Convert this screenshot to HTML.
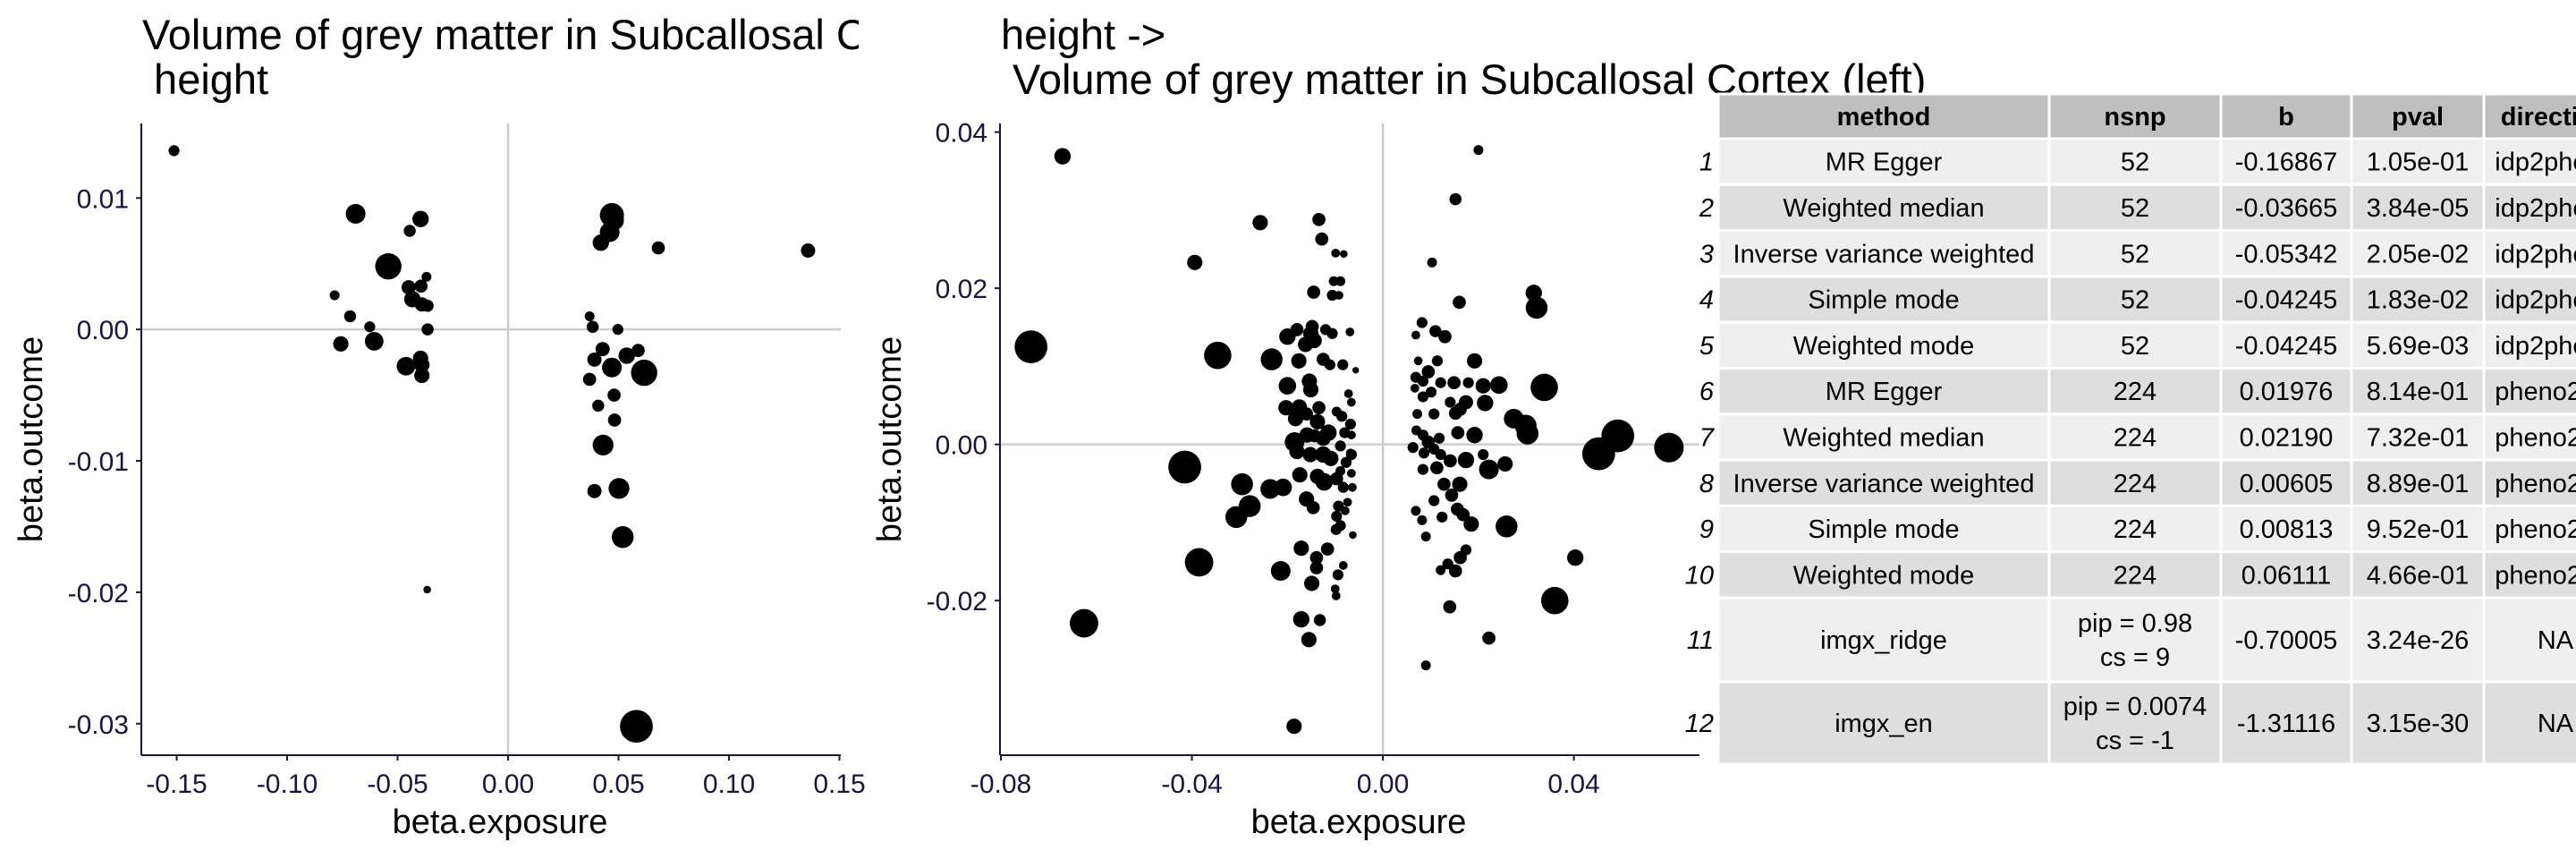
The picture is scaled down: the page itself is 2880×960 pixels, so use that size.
<!DOCTYPE html>
<html><head><meta charset="utf-8"><style>
html,body{margin:0;padding:0;background:#fff;width:2880px;height:960px;overflow:hidden}
svg{display:block;font-family:"Liberation Sans",Arial,sans-serif}
</style></head><body>
<svg id="s" width="2880" height="960" xmlns="http://www.w3.org/2000/svg">
<defs>
<clipPath id="c1"><rect x="158" y="138" width="782" height="706"/></clipPath>
<clipPath id="c2"><rect x="1118" y="138" width="782" height="706"/></clipPath>
<clipPath id="t1"><rect x="0" y="0" width="960" height="140"/></clipPath>
</defs>
</svg>
<script>
// ---- Panel 1 data ----
const p1x=[-0.1512,-0.069,-0.0396,-0.0445,-0.0542,-0.0369,-0.0785,-0.045,-0.0394,-0.0433,-0.039,-0.0364,-0.0715,-0.0626,-0.0364,-0.0757,-0.0606,-0.0396,-0.0462,-0.039,-0.039,-0.0366,0.047,0.048,0.046,0.042,0.068,0.1358,0.0369,0.0383,0.0497,0.0428,0.0589,0.0537,0.0391,0.047,0.0616,0.0369,0.048,0.0408,0.0482,0.043,0.0391,0.0502,0.0519,0.0581];
const p1y=[0.0136,0.0088,0.0084,0.0075,0.0048,0.0040,0.0026,0.0032,0.0033,0.0023,0.0019,0.0018,0.0010,0.0002,0.0,-0.0011,-0.0009,-0.0022,-0.0028,-0.0027,-0.0035,-0.0198,0.0087,0.0083,0.0074,0.0066,0.0062,0.0060,0.0010,0.0002,0.0,-0.0015,-0.0016,-0.0020,-0.0023,-0.0029,-0.0033,-0.0038,-0.0050,-0.0058,-0.0069,-0.0088,-0.0123,-0.0121,-0.0158,-0.0302];
const p1w=[10,18,15,11,24,9,9,13,12,15,13,11,11,10,11,14,17,14,17,14,14,7,22,18,18,15,12,13,9,11,10,13,12,15,13,18,24,12,12,11,12,19,13,19,20,30];
const p1xTicks=[-0.15,-0.10,-0.05,0.00,0.05,0.10,0.15];
const p1xLabels=["-0.15","-0.10","-0.05","0.00","0.05","0.10","0.15"];
const p1yTicks=[0.01,0.00,-0.01,-0.02,-0.03];
const p1yLabels=["0.01","0.00","-0.01","-0.02","-0.03"];
// ---- Panel 2 data ----
const p2x=[-0.0671,0.0200,0.0152,-0.0257,-0.0134,-0.0128,-0.0394,-0.0099,-0.0082,0.0103,-0.0103,-0.0089,-0.0106,-0.0092,-0.0145,0.0160,0.0316,0.0322,-0.0737,-0.0346,-0.0233,0.0082,0.0069,0.0110,0.0130,-0.0200,-0.0180,-0.0148,-0.0151,-0.0120,-0.0106,-0.0069,-0.0162,-0.0144,-0.0125,-0.0111,-0.0084,-0.0057,-0.0176,0.0074,0.0114,0.0192,0.0095,0.0069,0.0084,0.0121,0.0149,0.0179,0.0210,0.0243,0.0338,0.0067,0.0101,0.0084,-0.0200,-0.0151,-0.0154,-0.0072,-0.0066,0.0174,0.0214,0.0141,0.0162,0.0152,-0.0203,-0.0175,-0.0183,-0.0160,-0.0134,-0.0137,-0.0097,-0.0086,-0.0068,0.0072,0.0107,0.0274,0.0299,0.0303,0.0070,0.0084,0.0095,0.0118,0.0157,0.0192,-0.0185,-0.0159,-0.0143,-0.0125,-0.0114,-0.0080,-0.0066,-0.0089,-0.0068,0.0063,0.0086,0.0107,0.0121,0.0141,0.0174,0.0210,0.0256,0.0222,0.0492,0.0452,0.0599,-0.0415,-0.0180,-0.0152,-0.0125,-0.0109,-0.0066,-0.0077,-0.0089,-0.0066,-0.0174,-0.0137,-0.0123,-0.0097,-0.0083,-0.0064,0.0084,0.0113,0.0161,0.0128,0.0144,0.0107,-0.0295,-0.0236,-0.0209,-0.0279,-0.0307,-0.0160,-0.0146,-0.0093,-0.0074,-0.0079,-0.0097,-0.0089,-0.0098,-0.0063,0.0069,0.0082,0.0124,0.0156,0.0168,0.0185,0.0090,0.0259,-0.0385,-0.0171,-0.0139,-0.0116,-0.0083,-0.0094,-0.0139,-0.0214,-0.0149,-0.0100,-0.0098,0.0403,0.0360,0.0121,0.0152,0.0174,0.0162,0.0136,-0.0626,-0.0171,-0.0132,-0.0155,0.0140,0.0222,0.0090,-0.0186];
const p2y=[0.0369,0.0377,0.0314,0.0284,0.0288,0.0263,0.0233,0.0245,0.0244,0.0233,0.0209,0.0209,0.0191,0.0191,0.0195,0.0182,0.0194,0.0175,0.0125,0.0114,0.0109,0.0156,0.0140,0.0145,0.0138,0.0138,0.0147,0.0151,0.0142,0.0147,0.0142,0.0144,0.0128,0.0133,0.0109,0.0102,0.0102,0.0095,0.0107,0.0107,0.0107,0.0107,0.0093,0.0086,0.0081,0.0079,0.0079,0.0079,0.0075,0.0076,0.0073,0.0072,0.0067,0.0061,0.0075,0.0070,0.0081,0.0065,0.0054,0.0054,0.0053,0.0054,0.0045,0.0040,0.0047,0.0048,0.0033,0.0039,0.0047,0.0029,0.0042,0.0036,0.0026,0.0039,0.0039,0.0033,0.0024,0.0014,0.0018,0.0012,0.0003,0.0008,0.0015,0.0012,0.0003,0.0012,0.0011,0.0008,0.0015,0.0015,0.0012,-0.0002,-0.0011,-0.0004,-0.0011,-0.0006,-0.0013,-0.0021,-0.0020,-0.0013,-0.0025,-0.0032,0.0011,-0.0012,-0.0004,-0.0029,-0.0009,-0.0013,-0.0013,-0.0018,-0.0013,-0.0023,-0.0034,-0.0037,-0.0039,-0.0041,-0.0048,-0.0044,-0.0055,-0.0055,-0.0032,-0.0030,-0.0051,-0.0051,-0.0065,-0.0072,-0.0051,-0.0057,-0.0055,-0.0079,-0.0093,-0.0070,-0.0081,-0.0079,-0.0074,-0.0085,-0.0092,-0.0104,-0.0109,-0.0116,-0.0085,-0.0097,-0.0093,-0.0083,-0.0090,-0.0102,-0.0118,-0.0105,-0.0151,-0.0133,-0.0145,-0.0134,-0.0155,-0.0167,-0.0158,-0.0162,-0.0178,-0.0185,-0.0194,-0.0145,-0.0200,-0.0161,-0.0162,-0.0135,-0.0145,-0.0153,-0.0229,-0.0224,-0.0225,-0.0250,-0.0208,-0.0248,-0.0283,-0.0361];
const p2w=[15,9,11,14,12,12,14,8,7,9,9,9,10,8,12,12,15,20,30,25,20,10,8,11,12,15,12,12,14,10,10,8,14,14,12,10,10,6,14,8,10,14,12,10,10,10,12,10,14,16,25,8,10,10,16,14,14,8,8,13,15,10,12,12,14,14,14,12,12,14,9,10,10,9,10,18,20,20,9,10,12,10,12,15,18,14,12,14,15,10,8,10,8,10,10,10,10,12,15,10,14,18,30,30,27,30,14,14,15,14,10,10,9,8,14,14,16,12,10,8,10,12,14,12,12,10,20,18,16,20,20,14,12,10,8,8,10,10,10,7,9,9,10,12,12,14,9,20,26,14,12,12,8,10,12,18,14,8,8,15,25,9,12,10,12,10,26,15,11,14,12,12,9,14];
const p2xTicks=[-0.08,-0.04,0.00,0.04];
const p2xLabels=["-0.08","-0.04","0.00","0.04"];
const p2yTicks=[0.04,0.02,0.00,-0.02];
const p2yLabels=["0.04","0.02","0.00","-0.02"];
// ---- Table data ----
const tHeaders=["method","nsnp","b","pval","direction"];
const tMethod=["MR Egger","Weighted median","Inverse variance weighted","Simple mode","Weighted mode","MR Egger","Weighted median","Inverse variance weighted","Simple mode","Weighted mode","imgx_ridge","imgx_en"];
const tNsnp=["52","52","52","52","52","224","224","224","224","224","pip = 0.98|cs = 9","pip = 0.0074|cs = -1"];
const tB=["-0.16867","-0.03665","-0.05342","-0.04245","-0.04245","0.01976","0.02190","0.00605","0.00813","0.06111","-0.70005","-1.31116"];
const tP=["1.05e-01","3.84e-05","2.05e-02","1.83e-02","5.69e-03","8.14e-01","7.32e-01","8.89e-01","9.52e-01","4.66e-01","3.24e-26","3.15e-30"];
const tDir=["idp2pheno","idp2pheno","idp2pheno","idp2pheno","idp2pheno","pheno2idp","pheno2idp","pheno2idp","pheno2idp","pheno2idp","NA","NA"];

const NS="http://www.w3.org/2000/svg";
const svg=document.getElementById('s');
function el(tag,attrs,parent,text){const e=document.createElementNS(NS,tag);for(const k in attrs)e.setAttribute(k,attrs[k]);if(text!==undefined)e.textContent=text;(parent||svg).appendChild(e);return e;}
const NAVY="#1c1245";

function panel(o){
  const g=el('g',{});
  
  
  const sx=v=>o.x0+(v-o.xmin)/(o.xmax-o.xmin)*(o.x1-o.x0);
  const sy=v=>o.y1-(v-o.ymin)/(o.ymax-o.ymin)*(o.y1-o.y0);
  const tg=el('g',o.titleClip?{'clip-path':o.titleClip}:{},g);
  o.title.forEach((t,i)=>{const e=el('text',{x:o.x0+1,y:55+i*50,'font-size':47,fill:'#000'},tg,t);
    
    });
  const pg=el('g',{'clip-path':o.clip},g);
  const vl=el('line',{x1:sx(0),x2:sx(0),y1:o.y0,y2:o.y1,stroke:'#cccccc','stroke-width':2.5},pg);
  
  
  const hl=el('line',{x1:o.x0,x2:o.x1,y1:sy(0),y2:sy(0),stroke:'#cccccc','stroke-width':2.5},pg);
  
  
  o.px.forEach((v,i)=>{const w=o.pw[i]!==undefined?o.pw[i]:10;
    const c=el('circle',{cx:sx(v),cy:sy(o.py[i]),r:w/1.633,fill:'#000'},pg);
    
    });
  const ax=el('line',{x1:o.x0,x2:o.x1,y1:o.y1,y2:o.y1,stroke:NAVY,'stroke-width':2},g);
  
  
  const ay=el('line',{x1:o.x0,x2:o.x0,y1:o.y0,y2:o.y1,stroke:NAVY,'stroke-width':2},g);
  
  
  o.xt.forEach((v,i)=>{const x=sx(v);
    el('line',{x1:x,x2:x,y1:o.y1,y2:o.y1+6,stroke:NAVY,'stroke-width':2},g);
    const t=el('text',{x:x,y:o.y1+42,'font-size':30,fill:NAVY,'text-anchor':'middle'},g,o.xl[i]);
    
    });
  o.yt.forEach((v,i)=>{const y=sy(v);
    el('line',{x1:o.x0-6,x2:o.x0,y1:y,y2:y,stroke:NAVY,'stroke-width':2},g);
    const t=el('text',{x:o.x0-14,y:y+11,'font-size':30,fill:NAVY,'text-anchor':'end'},g,o.yl[i]);
    
    });
  const xt=el('text',{x:(o.x0+o.x1)/2+10,y:931,'font-size':38,fill:'#000','text-anchor':'middle'},g,'beta.exposure');
  
  
  const cy=(o.y0+o.y1)/2, cx=o.x0-111;
  const yt=el('text',{x:cx,y:cy,'font-size':38,fill:'#000','text-anchor':'middle',transform:`rotate(-90 ${cx} ${cy})`},g,'beta.outcome');
  
  
}
panel({name:'scatter-panel-left',x0:158,x1:940,y0:138,y1:844,xmin:-0.166,xmax:0.1506,ymin:-0.0324,ymax:0.01567,
  px:p1x,py:p1y,pw:p1w,xt:p1xTicks,xl:p1xLabels,yt:p1yTicks,yl:p1yLabels,clip:'url(#c1)',titleClip:'url(#t1)',
  title:['Volume of grey matter in Subcallosal Cortex (left) ->','\u00a0height']});
panel({name:'scatter-panel-right',x0:1118,x1:1900,y0:138,y1:844,xmin:-0.0802,xmax:0.0663,ymin:-0.0398,ymax:0.0411,
  px:p2x,py:p2y,pw:p2w,xt:p2xTicks,xl:p2xLabels,yt:p2yTicks,yl:p2yLabels,clip:'url(#c2)',titleClip:'',
  title:['height ->','\u00a0Volume of grey matter in Subcallosal Cortex (left)']});

// ---- Table ----
const tg=el('g',{});


const colX=[1921,2291,2483,2629,2777,2937];
const rowY=[105,155];
for(let i=0;i<10;i++)rowY.push(155+(i+1)*51.3);
rowY.push(762,854);
const F='font-size:29px';
for(let r=0;r<13;r++){
  const y0=rowY[r],y1=rowY[r+1];
  const fill=r===0?'#bfbfbf':(r%2===1?'#efefef':'#dedede');
  for(let c=0;c<5;c++){
    el('rect',{x:colX[c],y:y0,width:colX[c+1]-colX[c],height:y1-y0,fill:fill,stroke:'#fff','stroke-width':3},tg);
    let txt=r===0?tHeaders[c]:[tMethod,tNsnp,tB,tP,tDir][c][r-1];
    const cx=(colX[c]+colX[c+1])/2;
    const lines=txt.split('|');
    const mid=(y0+y1)/2;
    lines.forEach((ln,k)=>{
      const yy=mid+10+(k-(lines.length-1)/2)*38;
      const t=el('text',{x:cx,y:yy,style:F,'text-anchor':'middle','font-weight':r===0?'bold':'normal',fill:'#000'},tg,ln);
      
      
    });
  }
  if(r>0){const t=el('text',{x:1916,y:(y0+y1)/2+10,style:F,'text-anchor':'end','font-style':'italic',fill:'#000'},tg,String(r));
    
    }
}
</script>
</body></html>
